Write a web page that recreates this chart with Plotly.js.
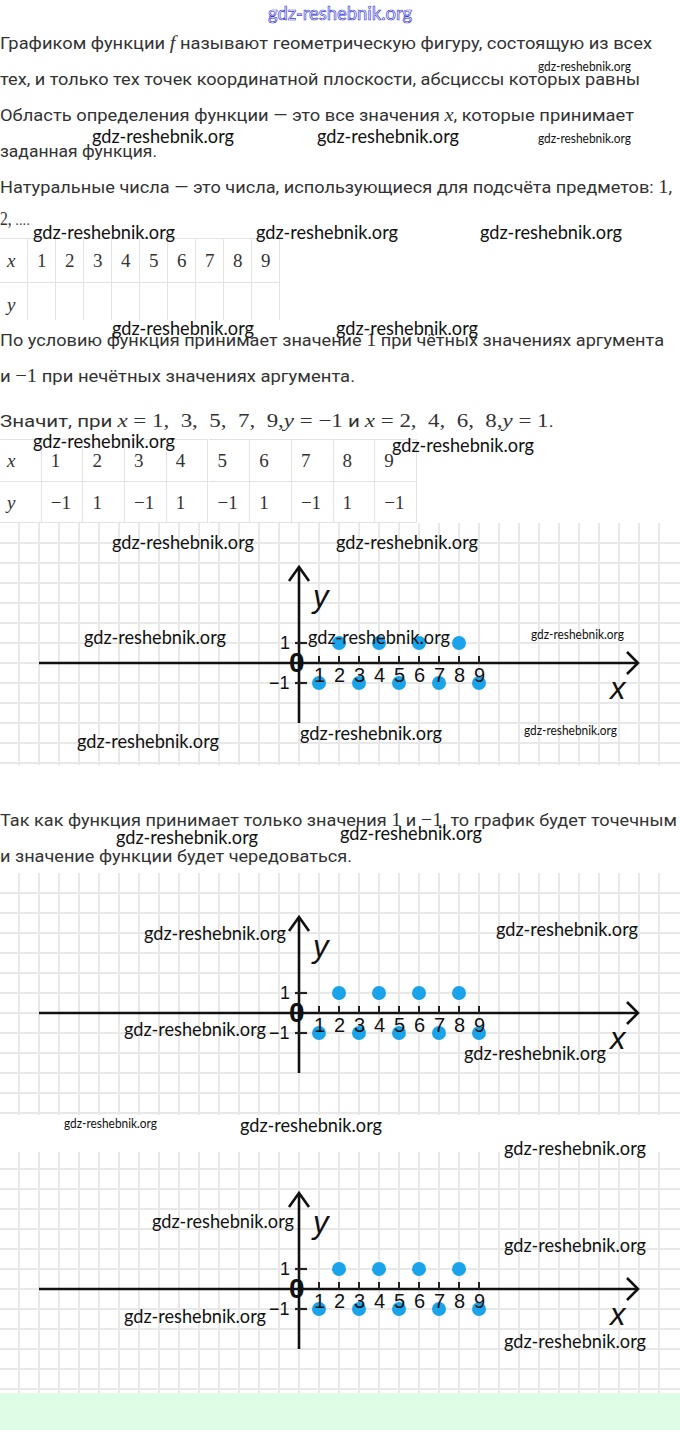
<!DOCTYPE html>
<html><head><meta charset="utf-8">
<script src="https://cdn.plot.ly/plotly-3.0.1.min.js"></script>
<style>
html,body{margin:0;padding:0;}
body{width:680px;height:1430px;position:relative;overflow:hidden;background:#fff;font-family:Roboto,"Noto Sans",sans-serif;}
.t{position:absolute;left:0;white-space:nowrap;font-size:17px;line-height:22px;height:22px;color:#333;transform-origin:0 50%;}
.m{font-family:"Liberation Serif",serif;font-size:19px;}
.mi{font-family:"Liberation Serif",serif;font-size:19px;font-style:italic;}
.wm{position:absolute;font-family:Lato,sans-serif;font-size:20px;line-height:24px;height:24px;color:#111;white-space:nowrap;transform-origin:0 50%;z-index:20;}
.wm.s{font-size:13px;line-height:16px;height:16px;}
.cell{position:absolute;box-sizing:border-box;border-right:1px solid #e3e3e3;border-top:1px solid #e3e3e3;font-family:"Liberation Serif",serif;font-size:19px;color:#333;white-space:nowrap;}
.g{position:absolute;left:0;width:680px;}
#band{position:absolute;left:0;top:1393px;width:680px;height:37px;background:#ddfde7;}
#topwm{position:absolute;left:268px;top:2px;font-family:Lato,sans-serif;font-size:19px;line-height:22px;color:#fff;-webkit-text-stroke:0.7px #3a3ad8;white-space:nowrap;transform-origin:0 50%;}
</style></head>
<body>
<div id="topwm" data-w="144">gdz-reshebnik.org</div>

<div class="t" style="top:32px" data-w="652">Графиком функции <span class="mi">f</span> называют геометрическую фигуру, состоящую из всех</div>
<div class="t" style="top:68px" data-w="640">тех, и только тех точек координатной плоскости, абсциссы которых равны</div>
<div class="t" style="top:104px" data-w="634">Область определения функции — это все значения <span class="mi">x</span>, которые принимает</div>
<div class="t" style="top:140px" data-w="157">заданная функция.</div>
<div class="t" style="top:176px" data-w="672">Натуральные числа — это числа, использующиеся для подсчёта предметов: <span class="m">1</span>,</div>
<div class="t" style="top:208px" data-w="30"><span class="m">2,</span> ....</div>

<div id="table1"></div>

<div class="t" style="top:329px" data-w="664">По условию функция принимает значение <span class="m">1</span> при чётных значениях аргумента</div>
<div class="t" style="top:365px" data-w="355">и <span class="m">−1</span> при нечётных значениях аргумента.</div>
<div class="t" style="top:410px" data-w="554">Значит, при <span class="mi">x</span><span class="m"> = 1,&nbsp; 3,&nbsp; 5,&nbsp; 7,&nbsp; 9,</span><span class="mi">y</span><span class="m"> = −1</span> и <span class="mi">x</span><span class="m"> = 2,&nbsp; 4,&nbsp; 6,&nbsp; 8,</span><span class="mi">y</span><span class="m"> = 1</span>.</div>

<div id="table2"></div>

<div id="g1" class="g" style="top:523px;height:242px"></div>

<div class="t" style="top:809px" data-w="677">Так как функция принимает только значения <span class="m">1</span> и <span class="m">−1</span>, то график будет точечным</div>
<div class="t" style="top:845px" data-w="352">и значение функции будет чередоваться.</div>

<div id="g2" class="g" style="top:873px;height:242px"></div>
<div id="g3" class="g" style="top:1152px;height:241px"></div>
<div id="band"></div>
<div id="wms"></div>

<script>
// ---- data ----
const xValues = [1, 2, 3, 4, 5, 6, 7, 8, 9];
const yValues = [-1, 1, -1, 1, -1, 1, -1, 1, -1];
const xTickLabels = ['1', '2', '3', '4', '5', '6', '7', '8', '9'];
const yTickValues = [1, -1];
const yTickLabels = ['1', '−1'];
const rowHeaders = ['x', 'y'];

function fmt(v){ return v < 0 ? '−' + Math.abs(v) : String(v); }

// ---- tables ----
function buildTable(id, top, colW, rowH, values, bottomBorder){
  const host = document.getElementById(id);
  const rows = [xValues.map(String), values];
  rows.forEach((row, r) => {
    const cells = [rowHeaders[r]].concat(row);
    cells.forEach((txt, c) => {
      const d = document.createElement('div');
      d.className = 'cell';
      d.style.left = (c * colW) + 'px';
      d.style.top = (top + r * rowH[0]) + 'px';
      d.style.width = colW + 'px';
      d.style.height = rowH[r] + 'px';
      d.style.lineHeight = rowH[0] + 'px';
      d.style.paddingLeft = (c === 0 ? 7 : 9) + 'px';
      if (r === 1 && bottomBorder) d.style.borderBottom = '1px solid #e3e3e3';
      if (c === 0) d.style.fontStyle = 'italic';
      d.textContent = txt;
      host.appendChild(d);
    });
  });
}
buildTable('table1', 238, 28, [44, 38], xValues.map(() => ''), false);
buildTable('table2', 439, 41.7, [42, 42], yValues.map(fmt), true);

// ---- graphs ----
const PX = 20;
function graph(id, height, oyRel){
  const ox = 299;
  const xr = [-ox / PX, (680 - ox) / PX];
  const yr = [-(height - oyRel) / PX, oyRel / PX];
  const axisLine = {color: '#111', width: 2.6};
  const shapes = [
    {type:'line', xref:'x', yref:'y', x0:-13, x1:16.95, y0:0, y1:0, line:axisLine},
    {type:'line', xref:'x', yref:'y', x0:0, x1:0, y0:-3, y1:4.8, line:axisLine},
    {type:'path', xref:'x', yref:'y', path:'M 16.4 0.55 L 16.95 0 L 16.4 -0.55', line:axisLine},
    {type:'path', xref:'x', yref:'y', path:'M -0.5 4.1 L 0 4.8 L 0.5 4.1', line:axisLine}
  ];
  xValues.forEach(v => shapes.push({type:'line', xref:'x', yref:'y', x0:v, x1:v, y0:-0.05, y1:0.35, line:{color:'#222', width:2}}));
  yTickValues.forEach(v => shapes.push({type:'line', xref:'x', yref:'y', x0:-0.2, x1:0.4, y0:v, y1:v, line:{color:'#222', width:2.2}}));
  const lf = {family:'Liberation Sans, Arial, sans-serif', size:20, color:'#111'};
  const annotations = [];
  xValues.forEach((v, i) => annotations.push({x:v, y:0, xref:'x', yref:'y', text:xTickLabels[i], showarrow:false, yshift:-12, font:lf}));
  yTickValues.forEach((v, i) => annotations.push({x:0, y:v, xref:'x', yref:'y', text:yTickLabels[i], showarrow:false, xanchor:'right', xshift:-7, font:{...lf, size:18}}));
  annotations.push({x:0, y:0, xref:'x', yref:'y', text:'<b>0</b>', showarrow:false, xshift:-2, yshift:1, font:{family:'Liberation Sans, Arial, sans-serif', size:28, color:'#111'}});
  annotations.push({x:1.1, y:3.35, xref:'x', yref:'y', text:'<i>y</i>', showarrow:false, font:{family:'Liberation Sans, Arial, sans-serif', size:31, color:'#111'}});
  annotations.push({x:15.9, y:-1.25, xref:'x', yref:'y', text:'<i>x</i>', showarrow:false, font:{family:'Liberation Sans, Arial, sans-serif', size:31, color:'#111'}});
  const trace = {x:xValues, y:yValues, type:'scatter', mode:'markers', marker:{size:14, color:'#1aa3e9'}, hoverinfo:'skip', cliponaxis:false};
  const ax = {showgrid:true, gridcolor:'#e8e8e8', gridwidth:1.6, dtick:1, tick0:0, zeroline:false, showticklabels:false, showline:false, ticks:'', fixedrange:true};
  Plotly.newPlot(id, [trace], {
    width:680, height:height, margin:{l:0, r:0, t:0, b:0},
    paper_bgcolor:'#fff', plot_bgcolor:'#fff', showlegend:false,
    xaxis:{...ax, range:xr}, yaxis:{...ax, range:yr},
    shapes:shapes, annotations:annotations
  }, {staticPlot:true, displayModeBar:false});
}
graph('g1', 242, 663 - 523);
graph('g2', 242, 1013 - 873);
graph('g3', 241, 1289 - 1152);

// ---- watermarks ----
const wms = [
  [538,66,'s'],[92,135,'b'],[317,135,'b'],[538,138,'s'],
  [33,231,'b'],[256,231,'b'],[480,231,'b'],
  [112,327,'b'],[336,327,'b'],
  [33,440,'b'],[392,444,'b'],
  [112,541,'b'],[336,541,'b'],
  [84,636,'b'],[308,636,'b'],[531,634,'s'],
  [77,740,'b'],[300,732,'b'],[524,730,'s'],
  [116,836,'b'],[340,832,'b'],
  [144,932,'b'],[496,928,'b'],[124,1028,'b'],[464,1052,'b'],
  [64,1123,'s'],[240,1124,'b'],
  [504,1147,'b'],[152,1220,'b'],[504,1244,'b'],[124,1315,'b'],[504,1340,'b']
];
const host = document.getElementById('wms');
wms.forEach(w => {
  const d = document.createElement('div');
  d.className = 'wm' + (w[2] === 's' ? ' s' : '');
  d.textContent = 'gdz-reshebnik.org';
  d.style.left = w[0] + 'px';
  d.style.top = (w[1] - (w[2] === 's' ? 8 : 12)) + 'px';
  d.dataset.w = w[2] === 's' ? 93 : 142;
  host.appendChild(d);
});

function fit(){
  document.querySelectorAll('[data-w]').forEach(el => {
    el.style.transform = '';
    const w = el.getBoundingClientRect().width;
    const target = parseFloat(el.dataset.w);
    if (w > 0) el.style.transform = 'scaleX(' + (target / w) + ')';
  });
}
fit();
if (document.fonts && document.fonts.ready) document.fonts.ready.then(fit);
</script>
</body></html>
